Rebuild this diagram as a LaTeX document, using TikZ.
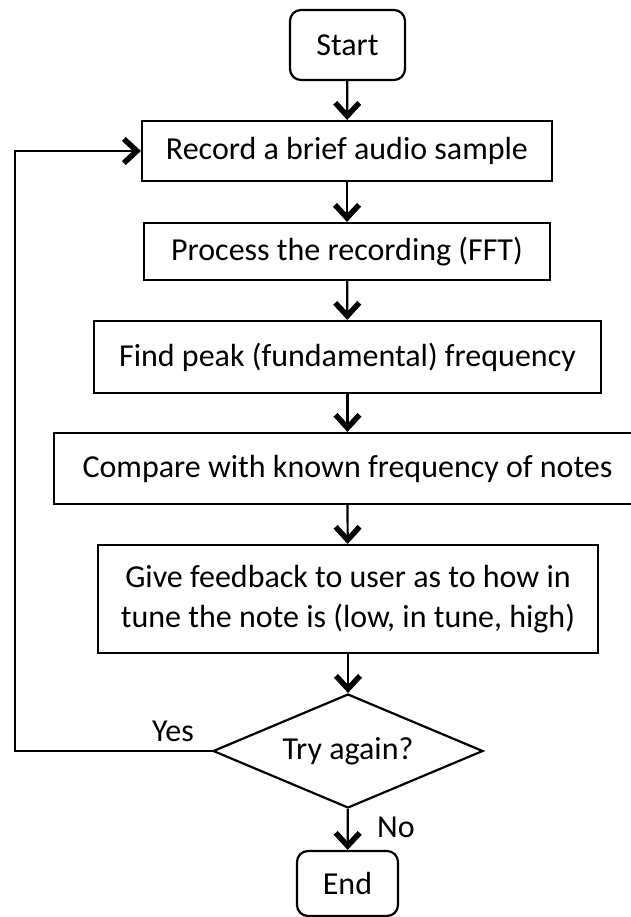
\documentclass[tikz,border=0pt]{standalone}
\usepackage{fontspec}
\setmainfont{Carlito}
\usetikzlibrary{arrows.meta,shapes.geometric}
\begin{document}
\begin{tikzpicture}[x=1pt,y=-1pt,
  every node/.style={font=\fontsize{32}{40}\selectfont},
  box/.style={draw,line width=2.2pt,inner sep=0pt,align=center},
  term/.style={box,rounded corners=11pt},
  dec/.style={draw,line width=2.2pt,diamond,inner sep=0pt,aspect=2.37},
  conn/.style={line width=2.2pt,-{Straight Barb[length=13pt,width=24pt,line width=5.5pt]}}
]
\useasboundingbox (0,0) rectangle (630,917);
\node[term,minimum width=115pt,minimum height=70pt] (start) at (347.5,45) {Start};
\node[box,minimum width=410pt,minimum height=60pt] (rec) at (347,151) {Record a brief audio sample};
\node[box,minimum width=406pt,minimum height=57pt] (proc) at (347,251.5) {Process the recording (FFT)};
\node[box,minimum width=507pt,minimum height=72pt] (find) at (347.5,357) {Find peak (fundamental) frequency};
\node[box,minimum width=587pt,minimum height=71pt] (comp) at (347.5,468.5) {Compare with known frequency of notes};
\node[box,minimum width=500pt,minimum height=108pt] (give) at (348,599) {Give feedback to user as to how in\\tune the note is (low, in tune, high)};
\node[dec,minimum width=270pt,minimum height=114pt] (dia) at (348,751) {Try again?};
\node[term,minimum width=101pt,minimum height=65pt] (end) at (347.5,883.5) {End};
\coordinate (loop) at (15,751);
\node (yes) at (173,731) {Yes};
\node (no) at (396,827) {No};
\draw[conn] (start) -- (rec);
\draw[conn] (rec) -- (proc);
\draw[conn] (proc) -- (find);
\draw[conn] (find) -- (find.south |- comp.north);
\draw[conn] (comp.north |- comp.south) -- (give);
\draw[conn] (give) -- (dia);
\draw[conn] (dia) -- (end);
\draw[conn] (dia.west) -- (loop) |- (rec.west);
\end{tikzpicture}
\end{document}
